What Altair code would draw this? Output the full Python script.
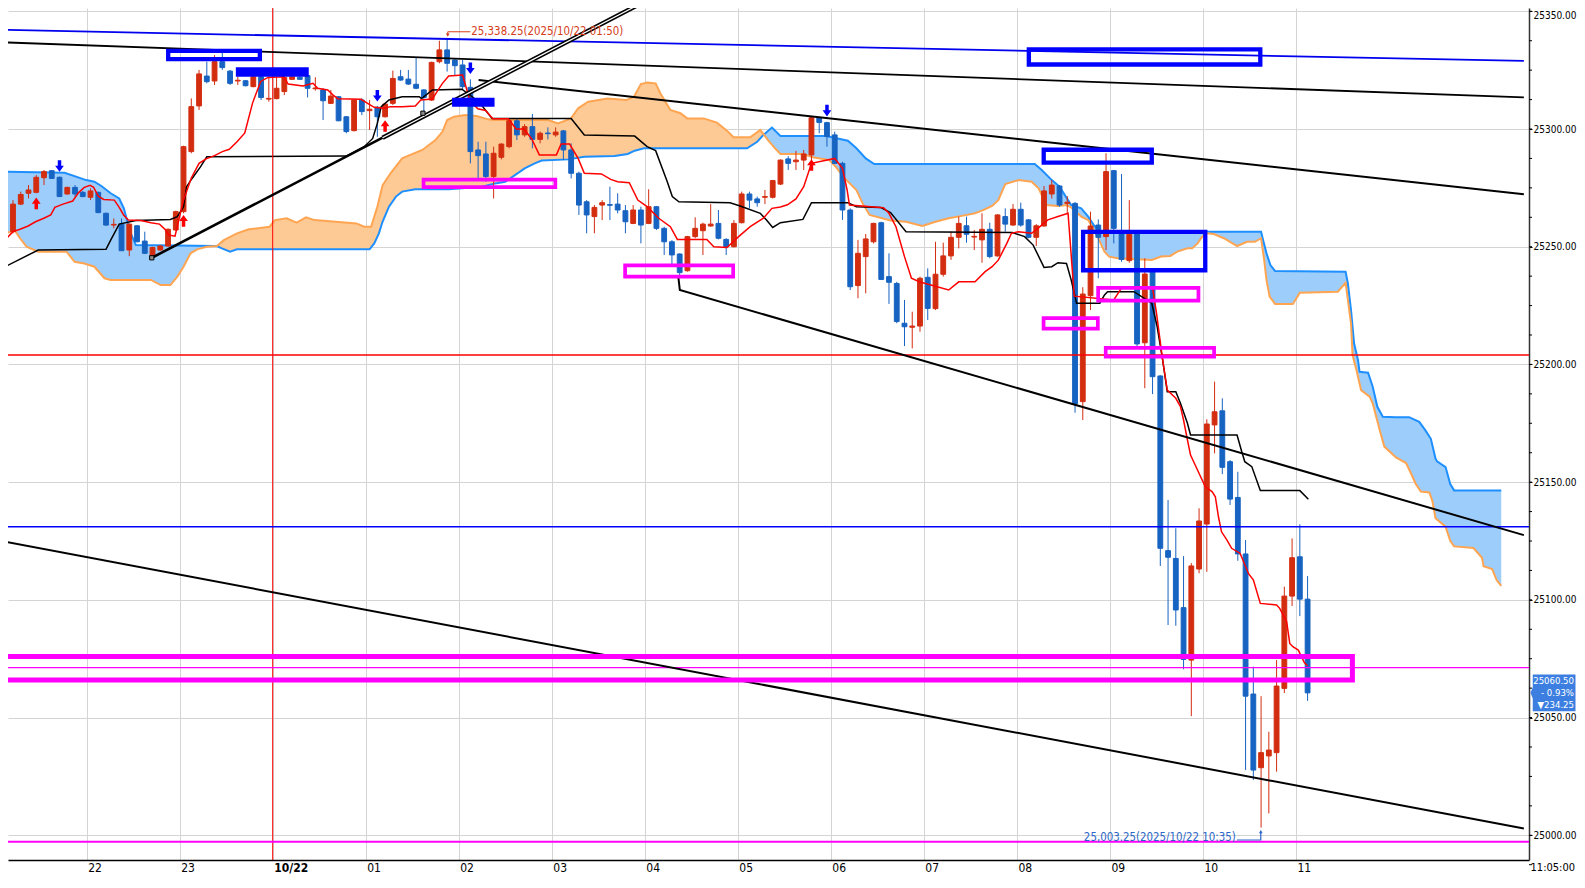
import altair as alt
import numpy as np
import pandas as pd

# ---------------- data ----------------
# 5-minute candles, index 0 = 21:10 (previous day) ... index 167 = 11:05
opens = [25256.4, 25268.1, 25272.7, 25273.1, 25279.3, 25282.3, 25279.5, 25272.4, 25275.2, 25273.1,
         25271.0, 25273.1, 25264.2, 25259.2, 25259.6, 25248.6, 25258.9, 25252.4, 25246.0, 25248.6,
         25250.3, 25257.1, 25264.9, 25290.4, 25309.8, 25322.5, 25320.4, 25328.6, 25324.6, 25320.4,
         25320.5, 25318.0, 25322.2, 25312.7, 25312.9, 25315.9, 25321.1, 25322.0, 25322.7, 25317.1,
         25316.6, 25310.9, 25313.7, 25305.2, 25299.3, 25312.3, 25307.8, 25309.2, 25305.2, 25310.9,
         25322.2, 25321.2, 25319.0, 25316.6, 25312.3, 25328.6, 25333.6, 25329.3, 25327.2, 25317.7,
         25291.1, 25289.4, 25279.8, 25288.0, 25292.5, 25303.5, 25297.5, 25301.0, 25295.6, 25298.3,
         25297.5, 25299.2, 25291.1, 25281.2, 25269.1, 25262.8, 25267.7, 25267.9, 25268.1, 25265.3,
         25259.9, 25265.6, 25259.9, 25267.0, 25257.8, 25252.1, 25246.9, 25239.8, 25254.3, 25256.8,
         25258.8, 25259.9, 25253.1, 25250.0, 25260.2, 25272.4, 25270.3, 25271.0, 25271.0, 25276.6,
         25287.3, 25286.1, 25286.8, 25289.0, 25304.8, 25302.7, 25297.5, 25285.4, 25265.6, 25233.5,
         25245.8, 25252.1, 25260.2, 25237.3, 25234.4, 25217.5, 25215.8, 25216.3, 25237.0, 25223.7,
         25238.3, 25246.1, 25254.0, 25258.9, 25254.1, 25252.9, 25257.4, 25246.1, 25262.8, 25259.2,
         25265.9, 25261.4, 25254.0, 25258.8, 25272.4, 25275.8, 25268.4, 25268.4, 25184.2, 25229.2,
         25259.2, 25254.3, 25282.3, 25255.7, 25244.1, 25255.7, 25209.2, 25239.4, 25195.1, 25120.9,
         25117.6, 25096.7, 25074.4, 25113.1, 25132.2, 25174.3, 25180.3, 25158.7, 25143.5, 25119.5,
         25060.0, 25028.7, 25033.7, 25035.1, 25062.4, 25101.6, 25118.3, 25100.3]
highs = [25269.8, 25273.4, 25276.2, 25280.5, 25282.6, 25282.6, 25279.8, 25275.5, 25276.2, 25273.7,
         25274.8, 25273.4, 25264.5, 25262.0, 25262.0, 25259.9, 25259.2, 25256.4, 25250.0, 25250.7,
         25257.8, 25265.3, 25292.9, 25313.0, 25325.1, 25328.6, 25331.4, 25332.4, 25325.1, 25322.2,
         25320.8, 25322.5, 25322.9, 25322.2, 25322.2, 25322.9, 25322.9, 25322.5, 25322.9, 25322.0,
         25317.3, 25316.6, 25314.0, 25305.5, 25312.6, 25313.0, 25312.3, 25309.8, 25310.9, 25324.8,
         25325.1, 25325.1, 25330.4, 25316.9, 25328.6, 25337.5, 25338.25, 25329.6, 25329.3, 25321.1,
         25294.6, 25294.6, 25292.5, 25293.9, 25303.8, 25304.5, 25302.1, 25306.4, 25298.9, 25300.7,
         25300.7, 25299.6, 25293.9, 25281.9, 25269.8, 25267.7, 25269.8, 25275.5, 25272.7, 25267.7,
         25267.7, 25267.0, 25274.4, 25267.3, 25258.5, 25252.8, 25247.2, 25254.6, 25262.5, 25260.2,
         25268.1, 25265.6, 25253.6, 25261.3, 25273.4, 25273.4, 25271.3, 25274.1, 25278.3, 25287.1,
         25288.5, 25290.7, 25291.1, 25305.2, 25305.2, 25303.1, 25298.9, 25286.1, 25266.3, 25252.9,
         25255.4, 25260.2, 25260.6, 25247.2, 25235.1, 25227.4, 25222.4, 25237.3, 25240.8, 25252.1,
         25251.7, 25256.4, 25262.8, 25262.8, 25257.1, 25264.2, 25260.2, 25263.8, 25266.3, 25268.1,
         25268.7, 25261.7, 25259.6, 25275.8, 25278.3, 25276.2, 25271.5, 25269.0, 25232.8, 25264.9,
         25261.6, 25289.7, 25282.6, 25280.9, 25269.8, 25255.9, 25245.1, 25239.7, 25195.4, 25142.4,
         25130.4, 25118.6, 25115.6, 25138.9, 25176.7, 25192.7, 25185.6, 25159.4, 25154.4, 25125.4,
         25071.6, 25059.1, 25044.0, 25074.4, 25105.6, 25126.1, 25132.1, 25110.1]
lows = [25255.7, 25267.7, 25270.5, 25272.7, 25276.2, 25278.8, 25271.3, 25272.1, 25271.3, 25271.0,
        25269.8, 25264.2, 25258.9, 25257.8, 25248.3, 25246.0, 25251.9, 25246.9, 25245.8, 25248.3,
        25250.0, 25256.8, 25264.2, 25289.7, 25308.1, 25319.4, 25318.7, 25325.1, 25318.7, 25318.7,
        25318.1, 25317.7, 25312.3, 25311.6, 25312.6, 25314.4, 25320.8, 25320.8, 25313.4, 25316.3,
        25303.8, 25310.6, 25303.3, 25298.2, 25299.0, 25305.9, 25299.6, 25296.7, 25304.9, 25310.2,
        25320.5, 25318.7, 25316.9, 25306.9, 25311.9, 25327.9, 25324.4, 25322.9, 25316.6, 25285.4,
        25279.0, 25277.6, 25270.5, 25287.1, 25291.8, 25295.3, 25296.7, 25291.8, 25293.9, 25295.6,
        25296.7, 25286.8, 25279.0, 25263.5, 25255.7, 25255.7, 25261.3, 25261.3, 25264.2, 25255.7,
        25259.6, 25251.4, 25259.6, 25257.1, 25246.5, 25241.5, 25237.0, 25239.4, 25253.6, 25246.5,
        25258.5, 25253.1, 25246.5, 25249.7, 25259.9, 25266.3, 25267.0, 25268.1, 25270.5, 25276.2,
        25282.6, 25282.6, 25282.6, 25286.8, 25298.2, 25292.5, 25285.1, 25261.4, 25231.6, 25228.1,
        25230.2, 25251.4, 25235.9, 25225.7, 25217.5, 25207.8, 25206.8, 25213.9, 25218.9, 25223.1,
        25237.3, 25244.4, 25249.3, 25251.7, 25248.6, 25243.2, 25245.1, 25245.8, 25256.4, 25258.9,
        25258.5, 25253.6, 25250.3, 25258.5, 25270.5, 25267.0, 25264.3, 25179.5, 25176.4, 25223.1,
        25236.6, 25248.6, 25251.4, 25243.6, 25243.2, 25207.8, 25189.9, 25187.4, 25114.4, 25089.3,
        25089.0, 25070.5, 25050.6, 25111.3, 25111.9, 25162.2, 25153.4, 25140.3, 25116.6, 25027.7,
        25023.5, 25003.25, 25009.3, 25027.0, 25060.4, 25097.4, 25093.1, 25057.1]
closes = [25268.1, 25272.2, 25274.1, 25279.5, 25281.9, 25279.0, 25271.3, 25275.2, 25272.4, 25271.3,
          25273.7, 25264.5, 25259.2, 25259.5, 25248.3, 25259.6, 25252.1, 25247.2, 25249.7, 25250.3,
          25257.4, 25264.9, 25292.5, 25309.5, 25323.4, 25320.1, 25328.6, 25326.1, 25319.4, 25320.7,
          25318.4, 25322.2, 25313.4, 25313.0, 25317.3, 25322.0, 25322.2, 25321.1, 25317.3, 25317.4,
          25312.0, 25314.0, 25303.5, 25298.9, 25312.3, 25307.4, 25308.4, 25305.2, 25310.6, 25321.5,
          25320.8, 25319.1, 25317.3, 25313.4, 25328.3, 25333.6, 25327.9, 25326.9, 25318.0, 25290.4,
          25288.7, 25279.8, 25289.7, 25293.6, 25303.5, 25297.5, 25301.0, 25295.6, 25298.2, 25298.0,
          25298.7, 25291.1, 25281.2, 25267.7, 25263.5, 25266.7, 25268.7, 25267.6, 25265.6, 25260.6,
          25265.6, 25259.2, 25267.0, 25257.8, 25252.1, 25246.5, 25239.0, 25254.3, 25257.8, 25259.6,
          25259.6, 25253.6, 25250.0, 25259.9, 25272.4, 25269.8, 25268.7, 25271.3, 25278.1, 25286.8,
          25285.4, 25286.8, 25289.4, 25304.8, 25302.8, 25296.8, 25285.4, 25265.6, 25233.0, 25247.2,
          25253.3, 25259.9, 25236.1, 25234.9, 25218.2, 25216.0, 25216.3, 25236.6, 25223.8, 25238.3,
          25246.1, 25254.0, 25259.9, 25255.3, 25254.4, 25257.4, 25245.8, 25263.5, 25259.6, 25265.9,
          25259.2, 25254.0, 25258.9, 25273.7, 25276.2, 25267.7, 25268.9, 25183.2, 25229.9, 25258.8,
          25254.0, 25281.9, 25257.8, 25244.6, 25255.3, 25208.7, 25238.4, 25194.8, 25121.9, 25118.1,
          25095.7, 25074.7, 25114.4, 25133.5, 25174.7, 25179.9, 25156.3, 25142.8, 25119.5, 25059.1,
          25027.7, 25035.1, 25036.2, 25063.4, 25101.6, 25117.9, 25100.3, 25060.5]

# Ichimoku lines as (bar index, price) vertices
tenkan = [(-1.03, 25252.85), (0, 25256.4), (0.9, 25257.4), (1.96, 25258.8), (2.9, 25260.6), (3.9, 25262.0),
          (4.87, 25263.5), (5.4, 25266.7), (6.45, 25268.1), (7.7, 25269.4), (8.46, 25273.0), (9.2, 25275.2),
          (9.95, 25276.1), (10.4, 25275.2), (11.0, 25271.5), (11.7, 25270.1), (13.07, 25269.8), (13.7, 25266.7),
          (14.27, 25263.5), (14.87, 25261.3), (16.5, 25261.1), (17.8, 25260.2), (18.9, 25259.6), (19.6, 25257.4),
          (20.1, 25255.0), (20.9, 25254.5), (21.96, 25269.4), (23.0, 25279.2), (24.0, 25285.4), (24.9, 25287.3),
          (26.0, 25288.7), (27.0, 25290.4), (27.9, 25291.4), (28.9, 25294.6), (29.9, 25298.3), (30.9, 25311.0),
          (31.95, 25320.2), (32.9, 25321.9), (34.9, 25322.2), (35.5, 25319.1), (37.4, 25318.3), (38.7, 25319.4),
          (39.3, 25317.3), (40.6, 25316.6), (41.3, 25314.4), (41.9, 25312.9), (44.9, 25312.6), (45.9, 25310.6),
          (46.6, 25309.2), (47.9, 25308.8), (48.7, 25309.5), (50.2, 25309.5), (51.9, 25309.8), (52.6, 25312.3),
          (54.1, 25312.7), (54.7, 25315.9), (55.4, 25319.4), (56.2, 25322.5), (58.0, 25322.9), (58.95, 25311.9),
          (59.97, 25308.6), (60.96, 25307.9), (61.9, 25304.4), (63.9, 25304.4), (64.9, 25300.0), (65.9, 25300.0),
          (66.9, 25295.9), (67.9, 25289.0), (70.1, 25289.0), (70.7, 25293.6), (71.8, 25293.6), (72.9, 25287.5),
          (73.7, 25281.2), (75.9, 25280.9), (77.1, 25278.6), (78.0, 25277.6), (79.5, 25277.2), (80.6, 25269.8),
          (81.8, 25267.0), (83.3, 25262.1), (84.8, 25258.5), (85.7, 25253.1), (89.5, 25253.1), (90.4, 25250.0),
          (92.1, 25249.7), (93.6, 25254.3), (95.1, 25258.5), (96.8, 25262.1), (97.9, 25266.3), (99.0, 25266.9),
          (99.9, 25267.8), (101.0, 25270.3), (102.0, 25275.5), (103.0, 25285.4), (106.0, 25287.5), (107.0, 25283.3),
          (107.6, 25274.1), (107.9, 25267.7), (112.3, 25266.6), (113.0, 25264.2), (113.9, 25258.5), (115.0, 25245.8),
          (115.9, 25236.6), (116.9, 25235.1), (120.7, 25231.6), (122.0, 25235.1), (124.1, 25235.1), (125.4, 25239.4),
          (126.3, 25241.5), (127.1, 25244.3), (128.2, 25251.4), (128.8, 25255.7), (129.7, 25256.4), (131.4, 25255.7),
          (132.2, 25257.8), (133.5, 25261.4), (134.8, 25262.8), (136.1, 25264.2), (136.9, 25229.0), (142.0, 25227.4),
          (143.0, 25232.5), (147.0, 25232.5), (147.5, 25222.0), (148.3, 25202.0), (148.9, 25189.1), (150.0, 25185.6),
          (150.6, 25182.1), (151.0, 25176.4), (151.5, 25167.9), (151.9, 25161.5), (152.5, 25157.3), (153.2, 25152.3),
          (153.8, 25148.1), (154.7, 25145.9), (155.1, 25143.8), (155.5, 25135.3), (155.9, 25128.9), (156.6, 25125.4),
          (157.2, 25121.9), (158.3, 25119.7), (159.4, 25111.0), (160.0, 25108.5), (160.9, 25098.5), (163.0, 25097.8),
          (163.4, 25096.4), (164.3, 25090.7), (164.7, 25081.5), (165.1, 25080.1), (165.8, 25078.7), (166.2, 25075.9),
          (166.6, 25073.3), (167.0, 25072.0)]
kijun = [(-1.03, 25241.5), (3.25, 25248.6), (12.0, 25248.9), (12.6, 25252.8), (13.7, 25259.6), (15.85, 25261.1),
         (20.3, 25261.6), (21.2, 25262.8), (22.0, 25267.0), (22.4, 25275.5), (23.1, 25279.0), (24.2, 25284.0),
         (25.0, 25288.2), (43.0, 25288.5), (45.3, 25292.5), (46.4, 25296.0), (47.0, 25302.4), (47.5, 25309.5),
         (48.5, 25312.3), (50.2, 25313.7), (52.4, 25313.7), (52.7, 25312.9), (54.1, 25316.6), (57.9, 25316.9),
         (60.1, 25311.6), (61.8, 25304.5), (72.0, 25304.5), (73.7, 25297.5), (80.2, 25297.0), (81.8, 25292.5),
         (82.9, 25290.8), (84.4, 25277.6), (85.05, 25271.3), (85.9, 25269.1), (92.5, 25268.7), (93.8, 25267.3),
         (96.4, 25264.2), (97.2, 25261.3), (98.0, 25258.2), (99.0, 25260.2), (101.9, 25261.6), (103.0, 25268.7),
         (107.7, 25268.7), (108.8, 25267.0), (111.9, 25266.7), (113.2, 25264.5), (115.2, 25256.4), (128.9, 25256.0),
         (130.5, 25254.3), (131.6, 25250.7), (133.0, 25241.2), (134.0, 25241.5), (134.8, 25243.2), (135.9, 25242.9),
         (136.5, 25235.9), (137.2, 25226.0), (140.2, 25226.0), (140.8, 25229.5), (141.2, 25230.9), (144.6, 25230.9),
         (146.9, 25226.0), (147.6, 25216.0), (148.3, 25201.9), (148.9, 25188.4), (150.0, 25188.4), (150.6, 25183.5),
         (151.5, 25175.0), (151.9, 25170.0), (157.9, 25170.0), (158.5, 25163.0), (158.9, 25158.7), (159.8, 25156.6),
         (160.9, 25146.4), (166.0, 25146.4), (167.1, 25142.7)]
span_a = [(-1.03, 25281.9), (6.66, 25281.4), (9.44, 25278.3), (10.5, 25277.6), (11.4, 25275.8), (12.6, 25272.7),
          (13.7, 25270.5), (14.3, 25266.3), (14.7, 25261.3), (15.2, 25255.7), (15.85, 25250.7), (26.3, 25250.3),
          (26.95, 25249.3), (28.0, 25247.9), (28.9, 25248.9), (46.0, 25248.9), (46.6, 25251.4), (47.2, 25255.7),
          (47.67, 25260.6), (48.5, 25267.0), (49.4, 25271.3), (50.2, 25273.4), (51.9, 25274.4), (56.2, 25274.4),
          (60.5, 25275.5), (62.2, 25276.9), (63.5, 25277.6), (64.8, 25280.5), (66.0, 25283.3), (67.3, 25285.4),
          (68.2, 25286.6), (71.6, 25287.1), (73.7, 25288.2), (77.6, 25288.5), (79.3, 25289.4), (80.2, 25290.8),
          (81.4, 25291.8), (94.7, 25291.8), (96.0, 25294.6), (96.8, 25297.5), (97.9, 25300.6), (99.0, 25297.0),
          (104.9, 25297.0), (107.7, 25295.0), (108.8, 25291.8), (110.0, 25287.5), (111.1, 25285.1), (131.8, 25285.1),
          (132.7, 25282.6), (134.0, 25278.3), (135.0, 25275.5), (136.5, 25267.7), (137.8, 25266.3), (138.7, 25262.8),
          (139.5, 25258.8), (140.4, 25256.0), (153.6, 25256.4), (161.0, 25256.4), (161.2, 25253.6), (161.7, 25247.2),
          (162.2, 25242.2), (162.8, 25239.7), (171.9, 25239.4), (172.2, 25234.4), (172.6, 25223.1), (173.0, 25208.9),
          (173.5, 25201.9), (173.7, 25196.9), (174.8, 25196.5), (175.4, 25190.5), (176.0, 25182.0), (176.7, 25177.8),
          (178.4, 25177.6), (180.1, 25177.6), (181.4, 25175.6), (182.2, 25172.0), (182.9, 25168.4), (183.5, 25160.0),
          (183.7, 25158.8), (184.8, 25156.4), (185.4, 25149.2), (185.9, 25146.5), (191.98, 25146.5)]
span_b = [(-1.03, 25255.7), (0.26, 25256.8), (0.9, 25253.6), (1.75, 25250.0), (3.25, 25247.9), (6.9, 25247.9),
          (7.95, 25243.6), (9.2, 25242.9), (10.5, 25241.5), (11.8, 25236.6), (12.6, 25235.9), (17.8, 25235.9),
          (19.05, 25233.7), (20.3, 25233.7), (21.2, 25237.3), (22.0, 25241.5), (22.9, 25247.2), (23.75, 25248.9),
          (25.0, 25250.0), (26.3, 25250.3), (27.2, 25252.8), (28.9, 25255.7), (30.4, 25257.4), (33.1, 25258.5),
          (33.8, 25261.3), (35.3, 25262.1), (36.6, 25260.2), (37.8, 25262.5), (38.9, 25261.3), (44.3, 25259.9),
          (45.3, 25258.5), (46.2, 25258.5), (47.0, 25267.0), (47.67, 25276.0), (48.7, 25281.2), (50.2, 25287.5),
          (52.8, 25291.1), (54.5, 25295.3), (55.4, 25298.9), (56.0, 25303.8), (56.9, 25305.2), (58.35, 25305.9),
          (59.8, 25305.5), (61.3, 25304.1), (62.0, 25303.8), (69.0, 25303.8), (70.3, 25302.4), (72.0, 25304.5),
          (72.9, 25308.8), (74.2, 25311.6), (76.7, 25313.0), (79.1, 25312.3), (80.1, 25313.7), (81.0, 25319.1),
          (81.8, 25319.7), (82.9, 25319.4), (83.5, 25315.2), (84.8, 25308.1), (86.1, 25306.7), (86.97, 25304.5),
          (89.1, 25304.5), (90.8, 25302.7), (92.1, 25299.3), (92.95, 25296.5), (95.1, 25296.5), (96.4, 25299.6),
          (97.4, 25295.3), (98.3, 25291.8), (99.0, 25289.4), (101.9, 25289.4), (103.2, 25288.0), (105.3, 25286.8),
          (106.2, 25283.7), (107.3, 25279.0), (108.8, 25274.1), (109.6, 25268.4), (110.5, 25263.5), (113.2, 25261.1),
          (115.2, 25260.6), (117.3, 25258.8), (119.0, 25260.6), (120.7, 25262.1), (122.4, 25263.1), (124.1, 25264.2),
          (125.0, 25265.3), (126.3, 25267.3), (127.1, 25269.8), (128.0, 25276.6), (129.7, 25278.3), (131.4, 25277.6),
          (132.3, 25274.8), (133.3, 25267.7), (134.8, 25267.3), (135.9, 25267.7), (136.5, 25266.7), (137.8, 25262.8),
          (138.7, 25261.3), (139.9, 25254.3), (140.8, 25247.9), (141.4, 25245.8), (142.5, 25245.1), (146.9, 25244.4),
          (148.1, 25245.8), (149.3, 25246.1), (150.2, 25247.9), (151.5, 25249.3), (152.1, 25249.3), (152.8, 25251.4),
          (153.4, 25254.3), (154.0, 25255.7), (154.9, 25255.4), (156.2, 25253.6), (157.9, 25250.3), (159.2, 25252.1),
          (160.2, 25252.1), (161.0, 25253.6), (161.4, 25244.3), (161.7, 25235.8), (162.1, 25228.8), (162.8, 25225.7),
          (165.1, 25225.7), (166.0, 25230.5), (170.9, 25230.9), (171.9, 25234.7), (172.2, 25227.4), (172.6, 25217.4),
          (172.8, 25204.0), (173.3, 25197.6), (173.9, 25189.1), (175.0, 25186.3), (175.4, 25183.5), (176.3, 25172.1),
          (176.9, 25165.1), (178.4, 25160.5), (179.7, 25158.1), (180.3, 25154.0), (180.96, 25149.2), (181.6, 25146.0),
          (182.7, 25145.6), (183.1, 25142.0), (183.5, 25134.7), (184.8, 25131.1), (185.4, 25125.1), (185.9, 25122.7),
          (188.4, 25122.0), (189.5, 25117.9), (189.7, 25114.3), (190.8, 25113.1), (191.4, 25108.3), (191.98, 25105.9)]

# drawn objects, in (minutes from 10/22 00:00, price)
trend_blue_top = [(-172.6, 25342.1), (807.0, 25328.9)]
trend_black_top = [(-172.6, 25336.8), (807.0, 25313.4)]
trend_black_mid = [(132.8, 25320.8), (807.0, 25272.3)]
trend_black_low = [(261.6, 25237.3), (262.6, 25231.6), (807.0, 25127.5)]
trend_black_bottom = [(-172.6, 25124.7), (807.0, 25002.9)]
trend_rise = [(-78.0, 25245.3), (70.9, 25296.3)]
trend_rise_double = [(70.9, 25296.3), (241.8, 25354.8)]
anchor_points = [(-78.0, 25245.3), (96.9, 25306.7)]

hline_red = 25204.0
hline_blue = 25131.1
hline_magenta = 25071.2
hline_magenta_low = 24997.2
vline_red = 0.0

blue_frames = [(-67.4, -8.27, 25329.7, 25333.2), (487.7, 637.0, 25327.4, 25333.8),
               (497.3, 567.0, 25285.7, 25291.2), (522.7, 601.5, 25240.0, 25256.3)]
blue_bars = [(-23.77, 23.26, 25322.2, 25326.2), (115.7, 143.1, 25309.5, 25313.3)]
magenta_frames = [(97.3, 182.3, 25275.3, 25278.5), (227.3, 297.0, 25237.3, 25242.1),
                  (497.2, 532.2, 25215.2, 25219.7), (532.4, 597.1, 25227.1, 25232.5),
                  (537.3, 607.2, 25203.3, 25207.0)]
magenta_big = [(-200.0, 696.4, 25066.0, 25075.9)]

down_arrows_idx = [6, 47, 59, 105]
down_arrows_p = [25284.3, 25314.1, 25325.8, 25307.8]
up_arrows_idx = [3, 22, 48, 103]
up_arrows_p = [25268.4, 25261.0, 25301.3, 25284.7]

high_note = "25,338.25(2025/10/22 01:50)"
high_note_pos = (128.1, 25341.3)
high_leader = [(127.5, 25341.3), (112.9, 25341.3), (112.9, 25339.9)]
low_note = "25,003.25(2025/10/22 10:35)"
low_note_pos = (523.2, 24998.8)
low_leader = [(621.9, 24998.0), (637.3, 24998.0), (637.3, 25001.6)]

last_price = 25060.50
tag_lines = ["25060.50", "- 0.93%", "\u25bc234.25"]
last_time_label = "11:05:00"

xtick_values = [-120, -60, 0, 60, 120, 180, 240, 300, 360, 420, 480, 540, 600, 660]
xtick_labels = ["22", "23", "10/22", "01", "02", "03", "04", "05", "06", "07", "08", "09", "10", "11"]
ytick_values = [25000, 25050, 25100, 25150, 25200, 25250, 25300, 25350]
yminor_values = [24987.5 + 12.5 * k for k in range(30)]

# ---------------- chart ----------------
FONT = "DejaVu Sans Condensed, Liberation Sans Narrow, sans-serif"
W, H = 1521, 852
T_MIN, T_MAX = -167.5, 807.08
P_MIN, P_MAX = 24989.5, 25351.4
CANDLE_RED, CANDLE_BLUE = "#d32d10", "#1763c2"

xscale = alt.Scale(domain=[T_MIN, T_MAX], nice=False, zero=False)
yscale = alt.Scale(domain=[P_MIN, P_MAX], nice=False, zero=False)

label_expr = "[" + ",".join(f"'{s}'" for s in xtick_labels) + "][indexof([" + \
    ",".join(str(v) for v in xtick_values) + "], datum.value)]"

XAXIS = alt.Axis(
    orient="bottom", values=xtick_values, labelExpr=label_expr, title=None,
    grid=True, gridColor="#d4d4d4", gridWidth=1, domain=True, domainColor="#000000",
    domainWidth=1.5, ticks=False, labelAlign="left", labelBaseline="top", labelPadding=2,
    labelOffset=1, labelFont=FONT, labelFontSize=12, labelColor="#000000",
    labelFlush=False, labelOverlap=False, labelBound=False,
    labelFontWeight={"condition": {"test": "datum.value == 0", "value": "bold"}, "value": "normal"})
YAXIS = alt.Axis(
    orient="right", values=ytick_values, format=".2f", title=None, grid=True,
    gridColor="#d4d4d4", gridWidth=1, domain=True, domainColor="#333333", domainWidth=1.5,
    ticks=True, tickSize=3, tickColor="#000000", labelPadding=1, labelFont=FONT,
    labelFontSize=10, labelColor="#000000", labelBaseline="middle", labelOverlap=False,
    labelBound=False, labelFlush=False,
    labelOffset={"condition": {"test": "datum.value == 25350", "value": 4}, "value": 0})


def X(f="t"):
    return alt.X(f"{f}:Q", scale=xscale, axis=XAXIS)


def Y(f="p"):
    return alt.Y(f"{f}:Q", scale=yscale, axis=YAXIS)


def t_of_idx(i):
    return -167.5 + 5.0 * np.asarray(i, dtype=float)


def pts_df(pairs, from_idx=False):
    a = np.array(pairs, dtype=float)
    t = t_of_idx(a[:, 0]) if from_idx else a[:, 0]
    return pd.DataFrame({"t": t, "p": a[:, 1], "k": np.arange(len(a))})


def line_layer(pairs, color, width, from_idx=False):
    return alt.Chart(pts_df(pairs, from_idx)).mark_line(
        color=color, strokeWidth=width, clip=True, interpolate="linear"
    ).encode(x=X(), y=Y(), order=alt.Order("k:Q"))


def rect_layer(rows, color, width=None, filled=False):
    df = pd.DataFrame(rows, columns=["t", "t2", "p", "p2"])
    if filled:
        mk = alt.Chart(df).mark_rect(color=color, clip=True)
    else:
        mk = alt.Chart(df).mark_rect(fillOpacity=0, stroke=color, strokeWidth=width, clip=True)
    return mk.encode(x=X(), x2=alt.X2("t2:Q"), y=Y(), y2=alt.Y2("p2:Q"))


def hline(p, color, width):
    return alt.Chart(pd.DataFrame({"p": [p]})).mark_rule(color=color, strokeWidth=width, clip=True).encode(y=Y())


axes = alt.Chart(pd.DataFrame({"t": [0.0], "p": [25100.0]})).mark_point(opacity=0).encode(x=X(), y=Y())

minor_ticks = alt.Chart(pd.DataFrame({"p": yminor_values})).mark_rule(color="#000000", strokeWidth=1).encode(
    x=alt.value(W), x2=alt.value(W + 3), y=Y())

# cloud fill (both spans put on a common grid for the fill only)
a_arr = np.array(span_a)
b_arr = np.array(span_b)
grid_idx = np.union1d(a_arr[:, 0], b_arr[:, 0])
A = np.interp(grid_idx, a_arr[:, 0], a_arr[:, 1])
B = np.interp(grid_idx, b_arr[:, 0], b_arr[:, 1])
cloud = pd.DataFrame({"t": t_of_idx(grid_idx), "a": A, "b": B, "lo": np.minimum(A, B)})
cloud_blue = alt.Chart(cloud).mark_area(color="#9dcdfa", clip=True, interpolate="linear").encode(
    x=X(), y=Y("a"), y2=alt.Y2("lo:Q"))
cloud_orange = alt.Chart(cloud).mark_area(color="#fdca96", clip=True, interpolate="linear").encode(
    x=X(), y=Y("b"), y2=alt.Y2("lo:Q"))

cdf = pd.DataFrame({"t": t_of_idx(np.arange(len(opens))), "o": opens, "h": highs, "l": lows, "c": closes})
cdf["col"] = np.where(cdf["c"] >= cdf["o"], CANDLE_RED, CANDLE_BLUE)
wicks = alt.Chart(cdf).mark_rule(strokeWidth=1, clip=True).encode(
    x=X(), y=Y("l"), y2=alt.Y2("h:Q"), color=alt.Color("col:N", scale=None))
bodies = alt.Chart(cdf).mark_bar(size=4.8, strokeWidth=1, clip=True).encode(
    x=X(), y=Y("o"), y2=alt.Y2("c:Q"), color=alt.Color("col:N", scale=None),
    stroke=alt.Stroke("col:N", scale=None))

DOWN = "M-0.3,-1L0.3,-1L0.3,-0.05L0.75,-0.05L0,1L-0.75,-0.05L-0.3,-0.05Z"
UP = "M-0.3,1L0.3,1L0.3,0.05L0.75,0.05L0,-1L-0.75,0.05L-0.3,0.05Z"
down_arrows = alt.Chart(pd.DataFrame({"t": t_of_idx(down_arrows_idx), "p": down_arrows_p})).mark_point(
    shape=DOWN, size=135, filled=True, color="#0000ff", opacity=1).encode(x=X(), y=Y())
up_arrows = alt.Chart(pd.DataFrame({"t": t_of_idx(up_arrows_idx), "p": up_arrows_p})).mark_point(
    shape=UP, size=135, filled=True, color="#ff0000", opacity=1).encode(x=X(), y=Y())

anchors = alt.Chart(pts_df(anchor_points)).mark_square(
    size=18, color="#8c8c8c", stroke="#000000", strokeWidth=1, opacity=1).encode(x=X(), y=Y())

vline = alt.Chart(pd.DataFrame({"t": [vline_red]})).mark_rule(color="#ff0000", strokeWidth=1).encode(x=X())

note_hi = alt.Chart(pd.DataFrame({"t": [high_note_pos[0]], "p": [high_note_pos[1]], "s": [high_note]})).mark_text(
    align="left", baseline="middle", font=FONT, fontSize=11.4, color="#d63c18").encode(x=X(), y=Y(), text="s:N")
note_lo = alt.Chart(pd.DataFrame({"t": [low_note_pos[0]], "p": [low_note_pos[1]], "s": [low_note]})).mark_text(
    align="left", baseline="middle", font=FONT, fontSize=11.4, color="#2a66c8").encode(x=X(), y=Y(), text="s:N")
hi_head = alt.Chart(pd.DataFrame({"t": [high_leader[-1][0]], "p": [high_leader[-1][1]]})).mark_point(
    shape="triangle-down", size=14, filled=True, color="#d63c18", opacity=1).encode(x=X(), y=Y())
lo_head = alt.Chart(pd.DataFrame({"t": [low_leader[-1][0]], "p": [low_leader[-1][1]]})).mark_point(
    shape="triangle-up", size=14, filled=True, color="#2a66c8", opacity=1).encode(x=X(), y=Y())

TAG = "M-0.9,-0.82L1,-0.82L1,0.82L-0.9,0.82L-0.9,0.25L-1,0L-0.9,-0.25Z"
tag = alt.Chart(pd.DataFrame({"p": [last_price]})).mark_point(
    shape=TAG, size=2025, filled=True, color="#3c7fe0", opacity=1).encode(x=alt.value(W + 24), y=Y())
tag_texts = [
    alt.Chart(pd.DataFrame({"p": [last_price], "s": [s]})).mark_text(
        align="right", baseline="middle", font=FONT, fontSize=9.5, color="#ffffff", dy=dy).encode(
        x=alt.value(W + 45), y=Y(), text="s:N")
    for s, dy in zip(tag_lines, [-12, 0, 12])
]
time_label = alt.Chart(pd.DataFrame({"s": [last_time_label]})).mark_text(
    align="right", baseline="top", font=FONT, fontSize=11, color="#000000").encode(
    x=alt.value(W + 46), y=alt.value(H + 2), text="s:N")

layers = [
    axes, minor_ticks,
    cloud_blue, cloud_orange,
    line_layer(span_a, "#1e8fff", 2, from_idx=True),
    line_layer(span_b, "#ffa552", 2, from_idx=True),
    wicks, bodies,
    line_layer(kijun, "#000000", 1.5, from_idx=True),
    line_layer(tenkan, "#ff0000", 1.5, from_idx=True),
    vline,
    hline(hline_red, "#ff0000", 1.5),
    hline(hline_blue, "#0000ff", 1.5),
    hline(hline_magenta, "#ff00ff", 1.3),
    hline(hline_magenta_low, "#ff00ff", 2),
    line_layer(trend_blue_top, "#0000ee", 1.8),
    line_layer(trend_black_top, "#000000", 1.8),
    line_layer(trend_black_mid, "#000000", 2),
    line_layer(trend_black_low, "#000000", 2),
    line_layer(trend_black_bottom, "#000000", 2),
    line_layer(trend_rise, "#000000", 2.6),
    line_layer(trend_rise_double, "#000000", 4.4),
    line_layer(trend_rise_double, "#ffffff", 1.2),
    anchors,
    rect_layer(blue_frames, "#0000ff", 4.3),
    rect_layer(blue_bars, "#0000ff", filled=True),
    rect_layer(magenta_frames, "#ff00ff", 3.7),
    rect_layer(magenta_big, "#ff00ff", 5),
    down_arrows, up_arrows,
    line_layer(high_leader, "#d63c18", 1),
    line_layer(low_leader, "#2a66c8", 1.2),
    hi_head, lo_head, note_hi, note_lo,
    tag, *tag_texts, time_label,
]

chart = alt.layer(*layers).properties(
    width=W, height=H,
    autosize=alt.AutoSizeParams(type="none"),
    padding={"left": 0, "top": 0, "right": 48, "bottom": 14},
    background="white",
).configure_view(stroke=None)

chart.save("out.html", embed_options={"renderer": "svg", "actions": False})
